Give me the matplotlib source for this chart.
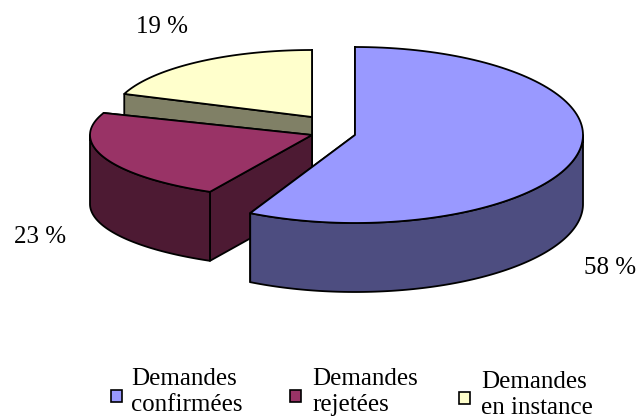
import matplotlib
matplotlib.use("Agg")
import matplotlib.pyplot as plt
import numpy as np
from matplotlib.patches import Polygon, Rectangle

categories = ["Demandes\nconfirmées", "Demandes\nrejetées", "Demandes\nen instance"]
values = [57.6, 23.0, 19.4]
value_labels = ["58 %", "23 %", "19 %"]

top_colors = ["#9999FF", "#993366", "#FFFFCC"]
side_colors = ["#4D4D80", "#4D1A33", "#808066"]

# each slice sits on its own ellipse (pixels): apex x, apex y, rx, ry
slices = [(355, 135, 228, 88), (312, 135, 222, 64), (312, 117, 200, 67)]
depth = 69
draw_order = [2, 1, 0]

label_pos = [(610, 268), (40, 237), (162, 27)]
legend_x = [111, 290, 459]
legend_y = [390, 390, 392]
text_x = [131, 312, 481]
base_y = [385, 385, 388]
line_gap = 26

plt.rcParams["font.family"] = ["Liberation Serif", "DejaVu Serif"]
fig = plt.figure(figsize=(6.38, 4.19), dpi=100)
ax = fig.add_axes([0, 0, 1, 1])
ax.set_xlim(0, 638)
ax.set_ylim(419, 0)
ax.axis("off")

edges = np.cumsum([0] + values) / sum(values) * 2 * np.pi


def rim(i, a, b):
    cx, cy, rx, ry = slices[i]
    t = np.linspace(a, b, 120)
    return np.column_stack([cx + rx * np.sin(t), cy - ry * np.cos(t)])


def face(pts, color, z):
    ax.add_patch(Polygon(pts, closed=True, facecolor=color, edgecolor="black",
                         linewidth=1.3, joinstyle="round", zorder=z))


shift = np.array([0, depth])
for z, i in enumerate(draw_order):
    a, b = edges[i], edges[i + 1]
    apex = np.array(slices[i][:2], dtype=float)
    outline = rim(i, a, b)

    # cut faces (far one first), then the front part of the rim, then the top
    for n, end in enumerate((outline[-1], outline[0])):
        face([apex, end, end + shift, apex + shift], side_colors[i], z * 10 + n)
    lo, hi = max(a, np.pi / 2), min(b, 3 * np.pi / 2)
    if hi > lo:
        front = rim(i, lo, hi)
        face(np.vstack([front, (front + shift)[::-1]]), side_colors[i], z * 10 + 2)
    face(np.vstack([apex, outline]), top_colors[i], z * 10 + 3)

for (x, y), s in zip(label_pos, value_labels):
    ax.text(x, y, s, fontsize=18, ha="center", va="center", zorder=50)

for i, cat in enumerate(categories):
    ax.add_patch(Rectangle((legend_x[i], legend_y[i]), 11, 12, facecolor=top_colors[i],
                           edgecolor="black", linewidth=1.2, zorder=50))
    for k, line in enumerate(cat.split("\n")):
        ax.text(text_x[i], base_y[i] + line_gap * k, line, fontsize=18, ha="left",
                va="baseline", zorder=50)

fig.savefig("out.png", dpi=100)
